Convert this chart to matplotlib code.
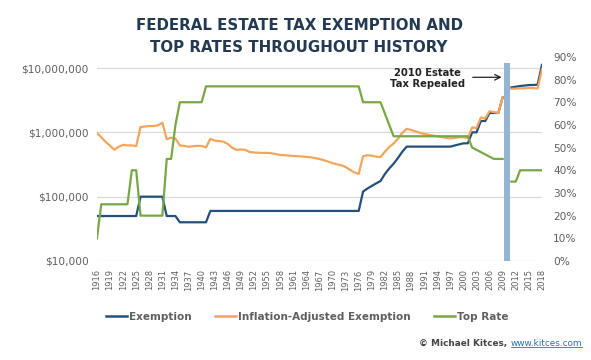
import numpy as np
import matplotlib
matplotlib.use("Agg")
import matplotlib.pyplot as plt
from matplotlib.lines import Line2D
from matplotlib.ticker import FixedLocator, FuncFormatter, NullLocator

# Years 1916-2018 (2010 left blank: estate tax repealed)
years = list(range(1916, 2019))

# Nominal exemption ($)
exemption = (
    [50000] * 10                 # 1916-1925
    + [100000] * 6               # 1926-1931
    + [50000] * 3                # 1932-1934
    + [40000] * 7                # 1935-1941
    + [60000] * 35               # 1942-1976
    + [120000, 134000, 147000, 161000, 175000,   # 1977-1981
       225000, 275000, 325000, 400000, 500000]   # 1982-1986
    + [600000] * 11              # 1987-1997
    + [625000, 650000, 675000, 675000]           # 1998-2001
    + [1000000, 1000000, 1500000, 1500000,       # 2002-2005
       2000000, 2000000, 2000000, 3500000]       # 2006-2009
    + [np.nan]                   # 2010
    + [5000000, 5120000, 5250000, 5340000,       # 2011-2014
       5430000, 5450000, 5490000, 11180000]      # 2015-2018
)

# Inflation-adjusted exemption ($, thousands)
inflation_adj_k = [
    984, 838, 710, 620, 536, 599, 638, 627, 627, 613,          # 1916-1925
    1212, 1233, 1254, 1254, 1284, 1411,                        # 1926-1931
    783, 825, 800,                                             # 1932-1934
    626, 617, 596, 608, 617, 613, 584,                         # 1935-1941
    790, 744, 731, 715, 660, 577, 534, 541, 534, 495,          # 1942-1951
    486, 482, 478, 480, 473, 458, 445, 442, 435, 430,          # 1952-1961
    426, 421, 415, 409, 397, 385, 370, 351, 332, 318,          # 1962-1971
    308, 290, 261, 239, 226,                                   # 1972-1976
    425, 441, 434, 419, 413, 500, 592, 671, 797, 979,          # 1977-1986
    1133, 1088, 1038, 985, 945, 917, 891, 868, 844, 820,       # 1987-1996
    802, 822, 837, 841, 818,                                   # 1997-2001
    1192, 1166, 1703, 1647, 2128, 2069, 1993, 3500,            # 2002-2009
    np.nan,                                                    # 2010
    4770, 4780, 4830, 4840, 4910, 4870, 4800, 9550,            # 2011-2018
]
inflation_adj = [v * 1000 for v in inflation_adj_k]

# Top estate tax rate (%)
top_rate = (
    [10] + [25] * 7 + [40] * 2 + [20] * 6 + [45] * 2 + [60]    # 1916-1934
    + [70] * 6 + [77] * 36 + [70] * 5                          # 1935-1981
    + [65, 60] + [55] * 18                                     # 1982-2001
    + [50, 49, 48, 47, 46, 45, 45, 45]                         # 2002-2009
    + [np.nan]                                                 # 2010
    + [35, 35] + [40] * 6                                      # 2011-2018
)

tick_years = list(range(1916, 2019, 3))
repeal_year = 2010

c_exempt = "#24507c"
c_infl = "#f4a55b"
c_rate = "#77a845"
c_text = "#5f5f5f"
c_grid = "#d9d9d9"

fig = plt.figure(figsize=(5.91, 3.6), dpi=100)
ax = fig.add_axes([0.164, 0.275, 0.753, 0.567])
ax2 = ax.twinx()

# repeal band
ax.axvspan(repeal_year - 0.7, repeal_year + 0.7, ymin=0, ymax=0.97,
           color="#94b4d4", lw=0, zorder=1)

ax.plot(years, exemption, color=c_exempt, lw=1.6, zorder=3)
ax.plot(years, inflation_adj, color=c_infl, lw=1.6, zorder=4)
ax2.plot(years, [r / 100 for r in top_rate], color=c_rate, lw=1.6, zorder=5)

ax.set_yscale("log")
ax.set_ylim(1e4, 1.49e7)
ax.set_xlim(1916, 2018)
ax2.set_ylim(0, 0.9)

ax.yaxis.set_major_locator(FixedLocator([1e4, 1e5, 1e6, 1e7]))
ax.yaxis.set_minor_locator(NullLocator())
ax.yaxis.set_major_formatter(FuncFormatter(lambda v, p: "${:,.0f}".format(v)))
ax.grid(axis="y", color=c_grid, lw=0.9)
ax.set_axisbelow(True)

ax2.set_yticks(np.arange(0, 0.91, 0.1))
ax2.yaxis.set_major_formatter(FuncFormatter(lambda v, p: "{:.0f}%".format(v * 100)))

ax.set_xticks(tick_years)
ax.set_xticklabels([str(y) for y in tick_years], rotation=90)

for a in (ax, ax2):
    for s in a.spines.values():
        s.set_visible(False)
    a.tick_params(length=0, colors=c_text)
ax.tick_params(axis="y", labelsize=7.6, pad=6)
ax.tick_params(axis="x", labelsize=6.0, pad=6)
ax2.tick_params(axis="y", labelsize=7.6, pad=8)
for lab in ax.get_yticklabels() + ax2.get_yticklabels():
    lab.set_fontweight("medium")

# annotation
ax2.text(2000.3, 0.805, "2010 Estate\nTax Repealed", ha="right", va="center",
         fontsize=7.2, fontweight="bold", color="#222222", linespacing=1.05,
         multialignment="center")
ax2.annotate("", xy=(2009.4, 0.81), xytext=(2001.5, 0.81),
             arrowprops=dict(arrowstyle="->", color="#222222", lw=0.9))

fig.text(0.506, 0.93, "FEDERAL ESTATE TAX EXEMPTION AND", ha="center",
         va="center", fontsize=10.8, fontweight="bold", color="#233a52")
fig.text(0.506, 0.868, "TOP RATES THROUGHOUT HISTORY", ha="center",
         va="center", fontsize=10.8, fontweight="bold", color="#233a52")

handles = [Line2D([], [], color=c_exempt, lw=1.8),
           Line2D([], [], color=c_infl, lw=1.8),
           Line2D([], [], color=c_rate, lw=1.8)]
leg = fig.legend(handles, ["Exemption", "Inflation-Adjusted Exemption", "Top Rate"],
                 loc="center", bbox_to_anchor=(0.52, 0.12), ncol=3, frameon=False,
                 fontsize=7.5, handlelength=2.0, handletextpad=0.15,
                 columnspacing=2.3)
for t in leg.get_texts():
    t.set_color(c_text)
    t.set_fontweight("bold")

t1 = fig.text(0.985, 0.047, "www.kitces.com", ha="right", va="center",
              fontsize=6.4, color="#2e6db4")
t0 = fig.text(0.853, 0.047, "\u00a9 Michael Kitces, ", ha="right", va="center",
              fontsize=6.4, color="#444444", fontweight="bold")

fig.canvas.draw()
bb = t1.get_window_extent().transformed(fig.transFigure.inverted())
t0.set_position((bb.x0, 0.047))
fig.add_artist(Line2D([bb.x0, bb.x1], [bb.y0 + 0.003, bb.y0 + 0.003],
                      color="#2e6db4", lw=0.6, transform=fig.transFigure))

fig.savefig("out.png", dpi=100, facecolor="white")
